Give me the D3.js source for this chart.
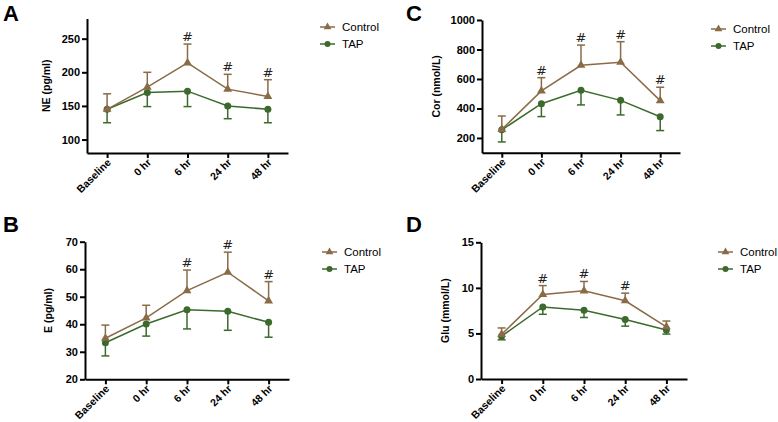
<!DOCTYPE html>
<html>
<head>
<meta charset="utf-8">
<script src="https://cdn.jsdelivr.net/npm/d3@7"></script>
<style>
  html, body { margin: 0; padding: 0; background: #fff; }
  svg { display: block; font-family: "Liberation Sans", Arial, sans-serif; }
</style>
</head>
<body>
<svg id="chart" width="778" height="422"></svg>
<script>
// ---------- data ----------
const timepoints = ["Baseline", "0 hr", "6 hr", "24 hr", "48 hr"];
const seriesNames = ["Control", "TAP"];

// Panel A: NE (pg/ml)
const neControl = [145, 178, 214, 175, 164];
const neControlErr = [23, 22, 28, 22, 25];
const neTap = [145, 170, 172, 150, 145];
const neTapErr = [20, 21, 23, 19, 20];
const neSig = ["", "", "#", "#", "#"];
const neTicks = [100, 150, 200, 250];

// Panel B: E (pg/ml)
const eControl = [34.9, 42.3, 52.2, 58.9, 48.5];
const eControlErr = [4.8, 4.6, 7.5, 7.3, 7.0];
const eTap = [33.3, 40.1, 45.3, 44.7, 40.7];
const eTapErr = [4.8, 4.4, 7.0, 6.9, 5.4];
const eSig = ["", "", "#", "#", "#"];
const eTicks = [20, 30, 40, 50, 60, 70];

// Panel C: Cor (nmol/L)
const corControl = [258, 519, 693, 713, 453];
const corControlErr = [91, 90, 137, 140, 91];
const corTap = [255, 432, 523, 455, 344];
const corTapErr = [82, 87, 99, 99, 94];
const corSig = ["", "#", "#", "#", "#"];
const corTicks = [200, 400, 600, 800, 1000];

// Panel D: Glu (mmol/L)
const gluControl = [4.9, 9.27, 9.67, 8.58, 5.73];
const gluControlErr = [0.7, 0.98, 1.03, 0.84, 0.63];
const gluTap = [4.7, 7.9, 7.55, 6.54, 5.37];
const gluTapErr = [0.4, 0.8, 0.8, 0.74, 0.44];
const gluSig = ["", "#", "#", "#", ""];
const gluTicks = [0, 5, 10, 15];

// ---------- styling / layout ----------
const colors = { Control: "#8a6b47", TAP: "#3c6a2d" };

const panels = [
  { letter: "A", title: "NE (pg/ml)", domain: [80, 280], ticks: neTicks,
    ctrl: neControl, ctrlErr: neControlErr, tap: neTap, tapErr: neTapErr, sig: neSig,
    x0: 87, x1: 288, yTop: 18.5, yBot: 153, letterX: 3, letterY: 21, titleX: 46, legX: 320, legY: 27 },
  { letter: "B", title: "E (pg/ml)", domain: [20, 70], ticks: eTicks,
    ctrl: eControl, ctrlErr: eControlErr, tap: eTap, tapErr: eTapErr, sig: eSig,
    x0: 85, x1: 289, yTop: 241.7, yBot: 379.3, letterX: 3, letterY: 232, titleX: 48, legX: 322, legY: 252 },
  { letter: "C", title: "Cor (nmol/L)", domain: [100, 1000], ticks: corTicks,
    ctrl: corControl, ctrlErr: corControlErr, tap: corTap, tapErr: corTapErr, sig: corSig,
    x0: 482, x1: 680, yTop: 20, yBot: 152.7, letterX: 406, letterY: 21, titleX: 436, legX: 711, legY: 29 },
  { letter: "D", title: "Glu (mmol/L)", domain: [0, 15], ticks: gluTicks,
    ctrl: gluControl, ctrlErr: gluControlErr, tap: gluTap, tapErr: gluTapErr, sig: gluSig,
    x0: 481, x1: 687, yTop: 242.3, yBot: 379, letterX: 406, letterY: 232, titleX: 445, legX: 718, legY: 252 }
];

const svg = d3.select("#chart");
const tri = d3.symbol().type(d3.symbolTriangle).size(34);

panels.forEach(p => {
  const g = svg.append("g");
  const x = d3.scalePoint().domain(timepoints).range([p.x0, p.x1]).padding(0.5);
  const y = d3.scaleLinear().domain(p.domain).range([p.yBot, p.yTop]);

  // panel letter
  g.append("text").attr("x", p.letterX).attr("y", p.letterY)
    .attr("font-size", 22).attr("font-weight", "bold").attr("fill", "#000")
    .text(p.letter);

  // y axis
  const ya = g.append("g").attr("transform", `translate(${p.x0},0)`)
    .call(d3.axisLeft(y).tickValues(p.ticks).tickFormat(d3.format("d"))
      .tickSize(5).tickPadding(2).tickSizeOuter(0));
  ya.select(".domain").attr("stroke", "#000").attr("stroke-width", 2);
  ya.selectAll(".tick line").attr("stroke", "#000").attr("stroke-width", 2);
  ya.selectAll(".tick text").attr("font-size", 11).attr("font-weight", "bold").attr("fill", "#000")
    .attr("font-family", "Liberation Sans, Arial, sans-serif");

  // x axis
  const xa = g.append("g").attr("transform", `translate(0,${p.yBot})`)
    .call(d3.axisBottom(x).tickSize(5).tickSizeOuter(0));
  xa.select(".domain").attr("stroke", "#000").attr("stroke-width", 2);
  xa.selectAll(".tick line").attr("stroke", "#000").attr("stroke-width", 2);
  xa.selectAll(".tick text").attr("font-size", 10.5).attr("font-weight", "bold").attr("fill", "#000")
    .attr("font-family", "Liberation Sans, Arial, sans-serif")
    .attr("text-anchor", "end").attr("dy", null).attr("y", null)
    .attr("transform", "translate(4,10) rotate(-45)");

  // y title
  g.append("text")
    .attr("transform", `translate(${p.titleX},${(p.yTop + p.yBot) / 2}) rotate(-90)`)
    .attr("text-anchor", "middle").attr("dy", "0.35em")
    .attr("font-size", 10.5).attr("font-weight", "bold").attr("fill", "#000")
    .text(p.title);

  const series = [
    { name: "Control", vals: p.ctrl, err: p.ctrlErr, dir: 1 },
    { name: "TAP", vals: p.tap, err: p.tapErr, dir: -1 }
  ];
  const line = d3.line().x((d, i) => x(timepoints[i])).y(d => y(d));

  // draw TAP first, control on top
  series.slice().reverse().forEach(s => {
    const c = colors[s.name];
    const sg = g.append("g");
    s.vals.forEach((v, i) => {
      const cx = x(timepoints[i]);
      const end = v + s.dir * s.err[i];
      sg.append("line").attr("x1", cx).attr("x2", cx).attr("y1", y(v)).attr("y2", y(end))
        .attr("stroke", c).attr("stroke-width", 1.5);
      sg.append("line").attr("x1", cx - 4).attr("x2", cx + 4).attr("y1", y(end)).attr("y2", y(end))
        .attr("stroke", c).attr("stroke-width", 1.5);
    });
    sg.append("path").datum(s.vals).attr("d", line)
      .attr("fill", "none").attr("stroke", c).attr("stroke-width", 1.5);
    s.vals.forEach((v, i) => {
      const cx = x(timepoints[i]);
      if (s.name === "Control") {
        sg.append("path").attr("d", tri).attr("transform", `translate(${cx},${y(v)})`).attr("fill", c);
      } else {
        sg.append("circle").attr("cx", cx).attr("cy", y(v)).attr("r", 3.5).attr("fill", c);
      }
    });
  });

  // significance marks
  p.sig.forEach((m, i) => {
    if (!m) return;
    g.append("text").attr("x", x(timepoints[i])).attr("y", y(p.ctrl[i] + p.ctrlErr[i]) - 3)
      .attr("text-anchor", "middle").attr("font-size", 13).attr("fill", "#222")
      .attr("font-family", "DejaVu Sans, sans-serif")
      .text(m);
  });

  // legend
  seriesNames.forEach((n, k) => {
    const ly = p.legY + k * 17;
    const c = colors[n];
    g.append("line").attr("x1", p.legX).attr("x2", p.legX + 15).attr("y1", ly).attr("y2", ly)
      .attr("stroke", c).attr("stroke-width", 1.5);
    if (n === "Control") {
      g.append("path").attr("d", d3.symbol().type(d3.symbolTriangle).size(26))
        .attr("transform", `translate(${p.legX + 7.5},${ly})`).attr("fill", c);
    } else {
      g.append("circle").attr("cx", p.legX + 7.5).attr("cy", ly).attr("r", 3).attr("fill", c);
    }
    g.append("text").attr("x", p.legX + 22).attr("y", ly).attr("dy", "0.35em")
      .attr("font-size", 11.5).attr("fill", "#000").text(n);
  });
});
</script>
</body>
</html>
